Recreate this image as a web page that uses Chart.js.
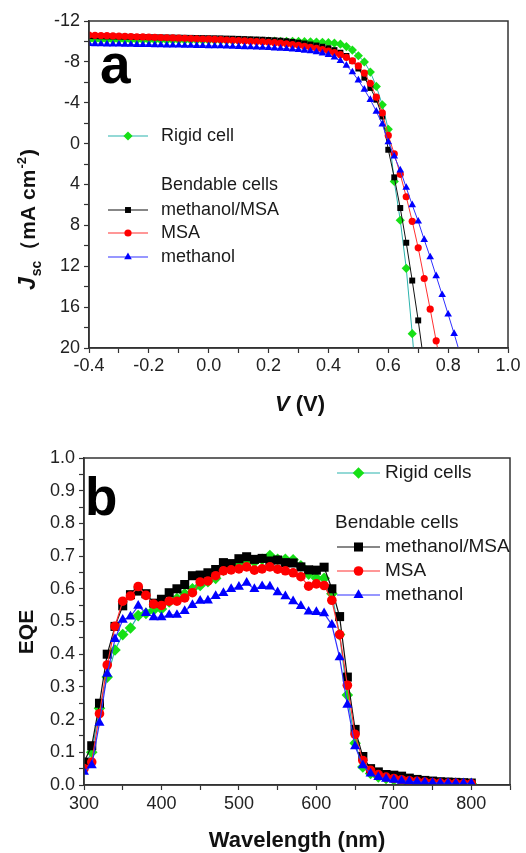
<!DOCTYPE html>
<html>
<head>
<meta charset="utf-8">
<script src="https://cdn.jsdelivr.net/npm/chart.js"></script>
<style>
  html, body { margin: 0; padding: 0; background: #fff; }
  #wrap { position: relative; width: 526px; height: 853px; }
  canvas { position: absolute; left: 0; }
  #jvChart { top: 0; }
  #eqeChart { top: 425px; }
</style>
</head>
<body>
<div id="wrap">
  <canvas id="jvChart" width="526" height="425"></canvas>
  <canvas id="eqeChart" width="526" height="428"></canvas>
</div>
<script>
const FONT = '"Liberation Sans", Arial, sans-serif';

// ---- (a) J-V curves ----
const voltage = [-0.40, -0.38, -0.36, -0.34, -0.32, -0.30, -0.28, -0.26, -0.24, -0.22,
  -0.20, -0.18, -0.16, -0.14, -0.12, -0.10, -0.08, -0.06, -0.04, -0.02,
  0.00, 0.02, 0.04, 0.06, 0.08, 0.10, 0.12, 0.14, 0.16, 0.18,
  0.20, 0.22, 0.24, 0.26, 0.28, 0.30, 0.32, 0.34, 0.36, 0.38,
  0.40, 0.42, 0.44, 0.46, 0.48, 0.50, 0.52, 0.54, 0.56, 0.58,
  0.60, 0.62, 0.64, 0.66, 0.68, 0.70, 0.72, 0.74, 0.76, 0.78,
  0.80, 0.82, 0.84];

const jRigid = [-10.15, -10.15, -10.14, -10.14, -10.13, -10.13, -10.13, -10.12, -10.12, -10.12,
  -10.11, -10.11, -10.11, -10.10, -10.10, -10.10, -10.09, -10.09, -10.09, -10.08,
  -10.08, -10.08, -10.07, -10.07, -10.06, -10.06, -10.05, -10.05, -10.04, -10.04,
  -10.03, -10.03, -10.02, -10.02, -10.01, -10.00, -9.98, -9.96, -9.94, -9.91,
  -9.88, -9.83, -9.73, -9.50, -9.15, -8.60, -8.00, -7.00, -5.60, -3.80,
  -1.40, 3.70, 7.50, 12.2, 18.6, 26.0];

const jMethanolMSA = [-10.52, -10.51, -10.50, -10.49, -10.48, -10.47, -10.46, -10.45, -10.44, -10.43,
  -10.42, -10.41, -10.40, -10.39, -10.38, -10.37, -10.36, -10.35, -10.34, -10.33,
  -10.32, -10.31, -10.30, -10.28, -10.27, -10.25, -10.23, -10.21, -10.19, -10.17,
  -10.14, -10.11, -10.07, -10.02, -9.96, -9.88, -9.80, -9.70, -9.60, -9.48,
  -9.33, -9.15, -8.90, -8.58, -8.10, -7.35, -6.45, -5.45, -4.30, -2.65,
  0.60, 3.30, 6.30, 9.70, 13.4, 17.3, 21.6];

const jMSA = [-10.62, -10.60, -10.58, -10.56, -10.54, -10.52, -10.50, -10.48, -10.46, -10.44,
  -10.42, -10.40, -10.38, -10.36, -10.34, -10.32, -10.30, -10.28, -10.26, -10.24,
  -10.22, -10.20, -10.17, -10.14, -10.11, -10.08, -10.05, -10.02, -9.99, -9.96,
  -9.92, -9.88, -9.83, -9.77, -9.70, -9.62, -9.53, -9.43, -9.32, -9.20,
  -9.06, -8.90, -8.70, -8.45, -8.10, -7.60, -6.90, -5.90, -4.55, -3.00,
  -0.80, 1.00, 3.00, 5.20, 7.60, 10.2, 13.2, 16.2, 19.3, 22.4];

const jMethanol = [-9.76, -9.75, -9.74, -9.73, -9.72, -9.71, -9.70, -9.69, -9.68, -9.67,
  -9.66, -9.65, -9.64, -9.63, -9.62, -9.61, -9.60, -9.59, -9.58, -9.57,
  -9.56, -9.55, -9.54, -9.52, -9.50, -9.48, -9.46, -9.44, -9.42, -9.40,
  -9.37, -9.34, -9.31, -9.27, -9.23, -9.18, -9.12, -9.05, -8.97, -8.85,
  -8.70, -8.45, -8.10, -7.65, -7.00, -6.20, -5.30, -4.30, -3.15, -1.90,
  -0.15, 1.25, 2.60, 4.30, 6.00, 7.60, 9.40, 11.1, 12.95, 14.8,
  16.7, 18.6, 20.6];

// ---- (b) EQE spectra ----
const wavelength = [300, 310, 320, 330, 340, 350, 360, 370, 380, 390,
  400, 410, 420, 430, 440, 450, 460, 470, 480, 490,
  500, 510, 520, 530, 540, 550, 560, 570, 580, 590,
  600, 610, 620, 630, 640, 650, 660, 670, 680, 690,
  700, 710, 720, 730, 740, 750, 760, 770, 780, 790, 800];

const eqeRigid = [0.055, 0.10, 0.235, 0.33, 0.413, 0.46, 0.48, 0.518, 0.525, 0.535,
  0.538, 0.56, 0.57, 0.585, 0.60, 0.61, 0.622, 0.632, 0.657, 0.664,
  0.674, 0.685, 0.682, 0.69, 0.702, 0.69, 0.69, 0.689, 0.67, 0.645,
  0.633, 0.632, 0.585, 0.46, 0.275, 0.128, 0.055, 0.035, 0.025, 0.02,
  0.016, 0.013, 0.011, 0.009, 0.008, 0.007, 0.006, 0.005, 0.005, 0.004, 0.004];

const eqeMethanolMSA = [0.07, 0.12, 0.25, 0.40, 0.485, 0.548, 0.582, 0.593, 0.585, 0.556,
  0.568, 0.588, 0.60, 0.613, 0.64, 0.642, 0.649, 0.659, 0.68, 0.677,
  0.692, 0.698, 0.69, 0.693, 0.685, 0.688, 0.68, 0.679, 0.667, 0.658,
  0.657, 0.666, 0.60, 0.515, 0.33, 0.17, 0.087, 0.05, 0.04, 0.032,
  0.03, 0.027, 0.021, 0.017, 0.014, 0.012, 0.01, 0.009, 0.008, 0.007, 0.006];

const eqeMSA = [0.05, 0.07, 0.218, 0.367, 0.485, 0.562, 0.578, 0.607, 0.58, 0.553,
  0.549, 0.562, 0.562, 0.572, 0.588, 0.621, 0.624, 0.64, 0.655, 0.658,
  0.661, 0.667, 0.657, 0.661, 0.667, 0.66, 0.655, 0.649, 0.637, 0.608,
  0.615, 0.61, 0.565, 0.46, 0.305, 0.155, 0.075, 0.045, 0.032, 0.024,
  0.02, 0.016, 0.013, 0.011, 0.009, 0.007, 0.006, 0.005, 0.005, 0.004, 0.004];

const eqeMethanol = [0.04, 0.06, 0.19, 0.34, 0.446, 0.505, 0.515, 0.548, 0.526, 0.513,
  0.513, 0.52, 0.52, 0.532, 0.55, 0.563, 0.564, 0.578, 0.587, 0.599,
  0.606, 0.618, 0.599, 0.608, 0.607, 0.589, 0.577, 0.562, 0.547, 0.53,
  0.529, 0.525, 0.49, 0.39, 0.245, 0.118, 0.06, 0.035, 0.024, 0.019,
  0.016, 0.013, 0.011, 0.01, 0.008, 0.007, 0.006, 0.006, 0.005, 0.005, 0.005];

// series look, shared by both panels
const SERIES = {
  rigid: { line: '#2bb3ad', mark: '#16e016', shape: 'rectRot' },
  mm:    { line: '#111111', mark: '#000000', shape: 'rect' },
  msa:   { line: '#ff3030', mark: '#ff0000', shape: 'circle' },
  meth:  { line: '#3030ff', mark: '#0000ff', shape: 'triangle' }
};

function toPoints(xs, ys) {
  return ys.map((y, i) => ({ x: xs[i], y: y }));
}

function makeDataset(label, key, xs, ys, r, lw) {
  const s = SERIES[key];
  return {
    label: label,
    data: toPoints(xs, ys),
    borderColor: s.line,
    borderWidth: lw,
    backgroundColor: s.mark,
    pointStyle: s.shape,
    pointRadius: r[key],
    pointBackgroundColor: s.mark,
    pointBorderWidth: 0,
    tension: 0
  };
}

function drawMarker(ctx, key, r, x, y) {
  const s = SERIES[key];
  ctx.save();
  ctx.fillStyle = s.mark;
  ctx.strokeStyle = s.mark;
  Chart.helpers.drawPoint(ctx, { pointStyle: s.shape, radius: r, rotation: 0, borderWidth: 0 }, x, y);
  ctx.restore();
}

// frame, panel letter, legend and axis titles
const panelDecor = {
  id: 'panelDecor',
  afterDraw(chart, args, opts) {
    const ctx = chart.ctx;
    const a = chart.chartArea;
    ctx.save();
    ctx.strokeStyle = '#333';
    ctx.lineWidth = 1.5;
    ctx.strokeRect(a.left, a.top, a.right - a.left, a.bottom - a.top);

    ctx.fillStyle = '#000';
    ctx.textBaseline = 'alphabetic';
    ctx.textAlign = 'left';
    ctx.font = 'bold ' + opts.letter.size + 'px ' + FONT;
    ctx.fillText(opts.letter.text, opts.letter.x, opts.letter.y);

    const lg = opts.legend;
    ctx.font = lg.size + 'px ' + FONT;
    ctx.textBaseline = 'middle';
    ctx.fillStyle = '#1a1a1a';
    lg.rows.forEach(row => {
      if (row.key) {
        ctx.strokeStyle = SERIES[row.key].line;
        ctx.lineWidth = 1.2;
        ctx.beginPath();
        ctx.moveTo(lg.x0, row.y);
        ctx.lineTo(lg.x1, row.y);
        ctx.stroke();
        drawMarker(ctx, row.key, lg.r[row.key], (lg.x0 + lg.x1) / 2, row.y);
        ctx.fillText(row.text, lg.tx, row.y);
      } else {
        ctx.fillText(row.text, row.x, row.y);
      }
    });

    opts.titles(ctx);
    ctx.restore();
  }
};

function piece(ctx, font, text, x, y) {
  ctx.font = font;
  ctx.fillText(text, x, y);
  return ctx.measureText(text).width;
}

function tickFont() {
  return { family: FONT, size: 18 };
}

function oneDecimal(v) {
  return Math.abs(v) < 1e-9 ? '0.0' : v.toFixed(1);
}

// ---- panel a ----
const rA = { rigid: 4.6, mm: 4.2, msa: 3.6, meth: 4.4 };
new Chart(document.getElementById('jvChart').getContext('2d'), {
  type: 'line',
  data: {
    datasets: [
      makeDataset('methanol', 'meth', voltage, jMethanol, rA, 1),
      makeDataset('MSA', 'msa', voltage, jMSA, rA, 1),
      makeDataset('methanol/MSA', 'mm', voltage, jMethanolMSA, rA, 1),
      makeDataset('Rigid cell', 'rigid', voltage, jRigid, rA, 1)
    ]
  },
  options: {
    responsive: false,
    animation: false,
    events: [],
    devicePixelRatio: 1,
    layout: { padding: { left: 0, right: 18, top: 21, bottom: 0 } },
    scales: {
      x: {
        type: 'linear', min: -0.4, max: 1.0,
        afterFit: s => { s.height = 77; },
        grid: { drawOnChartArea: false, tickLength: 5, tickColor: '#333', tickWidth: 1.2 },
        border: { color: '#333', width: 1.5 },
        ticks: {
          stepSize: 0.1, autoSkip: false, maxRotation: 0, padding: 2,
          color: '#222', font: tickFont(),
          callback: (v, i) => (i % 2 === 0 ? oneDecimal(v) : '')
        }
      },
      y: {
        type: 'linear', reverse: true, min: -12, max: 20,
        afterFit: s => { s.width = 89; },
        grid: { drawOnChartArea: false, tickLength: 5, tickColor: '#333', tickWidth: 1.2 },
        border: { color: '#333', width: 1.5 },
        ticks: {
          stepSize: 2, autoSkip: false, padding: 4,
          color: '#222', font: tickFont(),
          callback: v => (v % 4 === 0 ? String(v) : '')
        }
      }
    },
    plugins: {
      legend: { display: false },
      tooltip: { enabled: false },
      panelDecor: {
        letter: { text: 'a', size: 55, x: 100, y: 83 },
        legend: {
          size: 18, x0: 108, x1: 148, tx: 161, r: rA,
          rows: [
            { key: 'rigid', text: 'Rigid cell', y: 136 },
            { text: 'Bendable cells', x: 161, y: 185 },
            { key: 'mm', text: 'methanol/MSA', y: 210 },
            { key: 'msa', text: 'MSA', y: 233 },
            { key: 'meth', text: 'methanol', y: 257 }
          ]
        },
        titles: ctx => {
          ctx.fillStyle = '#111';
          ctx.textBaseline = 'alphabetic';
          // x title: V (V)
          const f1 = 'italic bold 22px ' + FONT;
          const f2 = 'bold 22px ' + FONT;
          ctx.font = f1;
          const w1 = ctx.measureText('V').width;
          ctx.font = f2;
          const w2 = ctx.measureText(' (V)').width;
          let x = 300 - (w1 + w2) / 2;
          x += piece(ctx, f1, 'V', x, 411);
          piece(ctx, f2, ' (V)', x, 411);
          // y title: J_sc (mA cm^-2)
          ctx.save();
          ctx.translate(35, 290);
          ctx.rotate(-Math.PI / 2);
          let p = 0;
          p += piece(ctx, 'italic bold 23px ' + FONT, 'J', p, 0) + 1;
          p += piece(ctx, 'bold 14px ' + FONT, 'sc', p, 6);
          p += piece(ctx, 'bold 21px ' + FONT, '\uFF08mA cm', p, 0) + 1;
          p += piece(ctx, 'bold 13px ' + FONT, '-2', p, -9);
          piece(ctx, 'bold 21px ' + FONT, ')', p + 1, 0);
          ctx.restore();
        }
      }
    }
  },
  plugins: [panelDecor]
});

// ---- panel b ----
const rB = { rigid: 5.8, mm: 6.4, msa: 4.8, meth: 5.8 };
new Chart(document.getElementById('eqeChart').getContext('2d'), {
  type: 'line',
  data: {
    datasets: [
      makeDataset('methanol', 'meth', wavelength, eqeMethanol, rB, 1.2),
      makeDataset('MSA', 'msa', wavelength, eqeMSA, rB, 1.2),
      makeDataset('methanol/MSA', 'mm', wavelength, eqeMethanolMSA, rB, 1.2),
      makeDataset('Rigid cells', 'rigid', wavelength, eqeRigid, rB, 1.2)
    ]
  },
  options: {
    responsive: false,
    animation: false,
    events: [],
    devicePixelRatio: 1,
    layout: { padding: { left: 0, right: 16, top: 33, bottom: 0 } },
    scales: {
      x: {
        type: 'linear', min: 300, max: 850,
        afterFit: s => { s.height = 68; },
        grid: { drawOnChartArea: false, tickLength: 5, tickColor: '#333', tickWidth: 1.2 },
        border: { color: '#333', width: 1.5 },
        ticks: {
          stepSize: 50, autoSkip: false, maxRotation: 0, padding: 3,
          color: '#222', font: tickFont(),
          callback: v => (v % 100 === 0 && v <= 800 ? String(v) : '')
        }
      },
      y: {
        type: 'linear', min: 0, max: 1,
        afterFit: s => { s.width = 84; },
        grid: { drawOnChartArea: false, tickLength: 5, tickColor: '#333', tickWidth: 1.2 },
        border: { color: '#333', width: 1.5 },
        ticks: {
          stepSize: 0.05, autoSkip: false, padding: 4,
          color: '#222', font: tickFont(),
          callback: (v, i) => (i % 2 === 0 ? oneDecimal(v) : '')
        }
      }
    },
    plugins: {
      legend: { display: false },
      tooltip: { enabled: false },
      panelDecor: {
        letter: { text: 'b', size: 53, x: 85, y: 90 },
        legend: {
          size: 19, x0: 337, x1: 380, tx: 385, r: rB,
          rows: [
            { key: 'rigid', text: 'Rigid cells', y: 48 },
            { text: 'Bendable cells', x: 335, y: 98 },
            { key: 'mm', text: 'methanol/MSA', y: 122 },
            { key: 'msa', text: 'MSA', y: 146 },
            { key: 'meth', text: 'methanol', y: 170 }
          ]
        },
        titles: ctx => {
          ctx.fillStyle = '#111';
          ctx.textBaseline = 'alphabetic';
          ctx.textAlign = 'center';
          ctx.font = 'bold 22px ' + FONT;
          ctx.fillText('Wavelength (nm)', 297, 422);
          ctx.save();
          ctx.translate(33, 207);
          ctx.rotate(-Math.PI / 2);
          ctx.font = 'bold 21px ' + FONT;
          ctx.fillText('EQE', 0, 0);
          ctx.restore();
        }
      }
    }
  },
  plugins: [panelDecor]
});
</script>
</body>
</html>
